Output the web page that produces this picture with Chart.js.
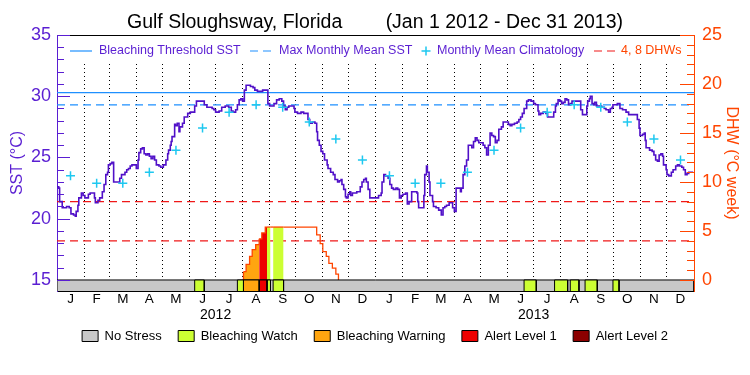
<!DOCTYPE html>
<html>
<head>
<meta charset="utf-8">
<script src="https://cdn.jsdelivr.net/npm/chart.js@4.4.1/dist/chart.umd.min.js"></script>
<style>
  body { margin: 0; background: #fff; }
  canvas { display: block; }
</style>
</head>
<body>
<canvas id="dhwChart" width="750" height="375"></canvas>
<script>
const monthLetters = ["J", "F", "M", "A", "M", "J", "J", "A", "S", "O", "N", "D"];
const monthLengths = [31, 29, 31, 30, 31, 30, 31, 31, 30, 31, 30, 31,
                      31, 28, 31, 30, 31, 30, 31, 31, 30, 31, 30, 31];
const yearLabels = ["2012", "2013"];

// monthly mean climatology (deg C), Jan..Dec
const climatology = [23.5, 22.9, 22.9, 23.8, 25.6, 27.4, 28.7, 29.3, 29.1, 27.9, 26.5, 24.8];
const maxMonthlyMean = 29.3;
const bleachingThreshold = 30.3;
const dhwLevels = [4, 8];

// daily SST, day 0 = Jan 1 2012
const sstDays = [
  0, 2, 3, 6, 9, 11, 14, 16, 19, 21, 22, 24, 25, 28, 30, 32, 34, 36, 38, 41,
  43, 44, 47, 49, 52, 54, 56, 58, 59, 61, 63, 65, 67, 70, 72, 74, 78, 80, 82, 84,
  86, 89, 91, 93, 94, 96, 98, 100, 102, 104, 106, 108, 110, 112, 114, 117, 119, 122, 125, 127,
  128, 130, 131, 132, 135, 136, 138, 140, 141, 144, 146, 148, 150, 153, 156, 158, 160, 164, 167, 169,
  172, 176, 178, 180, 182, 184, 186, 189, 193, 197, 200, 202, 205, 207, 209, 211, 213, 215, 217, 220,
  222, 225, 227, 230, 233, 236, 239, 241, 242, 244, 247, 249, 252, 255, 258, 260, 262, 264, 266, 269,
  272, 273, 276, 280, 283, 285, 288, 290, 293, 296, 298, 299, 301, 303, 305, 307, 310, 311, 314, 317,
  319, 322, 324, 326, 327, 329, 331, 332, 334, 336, 337, 339, 341, 344, 346, 348, 350, 352, 354, 355,
  357, 359, 363, 367, 369, 372, 373, 375, 377, 380, 382, 384, 386, 389, 391, 393, 395, 397, 400, 402,
  404, 407, 410, 413, 414, 415, 419, 421, 422, 424, 425, 427, 428, 431, 432, 435, 437, 438, 441, 443,
  445, 447, 450, 452, 454, 456, 458, 460, 463, 464, 466, 468, 470, 472, 474, 476, 478, 480, 482, 484,
  487, 489, 491, 493, 495, 497, 499, 501, 503, 505, 507, 510, 512, 515, 518, 520, 522, 525, 528, 530,
  532, 534, 536, 539, 541, 544, 547, 549, 552, 553, 555, 558, 561, 563, 568, 570, 572, 573, 575, 577,
  579, 581, 583, 585, 587, 589, 591, 594, 599, 601, 603, 606, 608, 609, 611, 612, 614, 616, 617, 619,
  621, 623, 625, 628, 630, 633, 635, 637, 638, 640, 643, 646, 649, 651, 653, 656, 665, 666, 668, 669,
  672, 674, 675, 676, 680, 683, 685, 687, 689, 691, 693, 695, 696, 699, 700, 702, 705, 707, 710, 712,
  714, 717, 719, 721, 723, 725, 730
];
const sstValues = [
  22.6, 22.5, 21.4, 20.9, 20.9, 21.0, 20.9, 20.4, 20.3, 20.2, 20.6, 21.1, 21.7, 22.1, 21.9, 21.7, 21.7, 22.0, 22.1, 22.1,
  21.7, 21.3, 21.5, 21.7, 22.2, 22.8, 23.6, 23.8, 24.4, 24.5, 24.6, 23.0, 23.0, 23.0, 23.3, 23.6, 23.8, 24.0, 24.1, 24.3,
  24.4, 24.4, 24.1, 24.8, 25.4, 25.7, 25.8, 25.3, 25.2, 25.3, 25.1, 24.9, 25.1, 24.8, 24.4, 24.3, 24.2, 24.4, 24.8, 25.3,
  25.6, 26.0, 26.3, 26.7, 27.7, 27.6, 27.8, 27.1, 27.5, 27.8, 28.3, 28.3, 28.6, 28.7, 28.7, 29.2, 29.6, 29.6, 29.6, 29.3,
  29.1, 29.1, 29.0, 28.9, 28.7, 28.7, 28.8, 29.1, 29.2, 29.1, 28.8, 28.7, 28.9, 29.3, 29.7, 29.8, 29.6, 30.5, 30.9, 30.9,
  30.8, 30.7, 30.5, 30.4, 30.4, 30.5, 30.5, 30.5, 29.4, 29.2, 29.2, 29.4, 29.7, 29.8, 29.6, 29.2, 28.9, 29.1, 29.2, 29.2,
  29.0, 28.7, 28.6, 28.7, 28.6, 28.6, 28.1, 27.8, 27.9, 27.8, 27.1, 26.4, 26.0, 25.5, 25.3, 24.8, 24.4, 24.1, 23.8, 23.6,
  23.2, 23.0, 23.1, 23.2, 22.8, 22.4, 21.8, 21.7, 22.0, 22.2, 21.9, 22.1, 22.1, 22.2, 22.2, 22.6, 23.0, 23.2, 23.3, 23.0,
  22.4, 21.7, 21.7, 21.7, 21.9, 22.1, 23.0, 23.6, 23.5, 23.3, 22.8, 22.5, 22.4, 22.5, 22.4, 21.7, 21.9, 22.0, 22.1, 21.2,
  21.4, 22.2, 22.2, 22.1, 21.4, 20.9, 20.9, 21.9, 23.6, 24.3, 23.8, 23.0, 21.9, 21.4, 21.0, 20.9, 20.9, 20.7, 20.3, 20.9,
  21.0, 21.1, 21.3, 21.3, 20.9, 20.6, 22.5, 22.5, 22.2, 22.5, 23.6, 24.3, 24.8, 26.0, 26.0, 25.8, 26.3, 26.6, 26.4, 26.2,
  26.2, 26.0, 25.8, 25.2, 26.0, 27.0, 26.8, 26.7, 26.2, 26.4, 27.3, 27.5, 27.9, 27.9, 27.7, 27.6, 27.7, 27.8, 27.9, 28.1,
  28.3, 28.6, 29.0, 29.6, 29.7, 29.6, 29.4, 29.3, 28.8, 28.5, 28.6, 28.7, 28.6, 28.3, 28.3, 28.7, 29.2, 29.4, 29.7, 29.6,
  29.4, 29.5, 29.8, 29.7, 29.3, 29.4, 29.6, 29.6, 29.6, 28.9, 28.5, 28.5, 29.2, 29.6, 29.8, 30.0, 29.4, 29.3, 29.5, 29.2,
  29.2, 29.2, 29.1, 29.0, 28.9, 28.7, 29.0, 29.1, 29.3, 29.3, 29.4, 29.0, 28.9, 28.9, 28.7, 28.5, 28.5, 28.1, 27.4, 26.8,
  26.9, 27.0, 26.4, 25.8, 25.6, 25.5, 25.2, 24.8, 24.7, 25.2, 25.3, 25.1, 24.4, 24.0, 23.6, 23.5, 23.8, 24.0, 24.3, 24.4,
  24.3, 24.2, 24.0, 23.6, 23.7, 23.8, 23.8
];

// degree heating weeks
const dhwDays = [213, 214, 217, 221, 224, 228, 232, 235, 239, 241, 245, 248, 260, 298, 302, 305, 309, 312, 316, 320, 323];
const dhwValues = [0, 0.85, 1.6, 2.4, 3.1, 3.6, 4.2, 4.8, 5.4, 5.4, 5.4, 5.4, 5.4, 4.6, 3.7, 2.9, 2.4, 1.7, 1.2, 0.6, 0];

// stress level periods (0 no stress, 1 watch, 2 warning, 3 alert 1, 4 alert 2)
const statusNames = ["No Stress", "Bleaching Watch", "Bleaching Warning", "Alert Level 1", "Alert Level 2"];
const statusColors = ["#C8C8C8", "#CCFF33", "#FFA510", "#EE0000", "#8B0000"];
const statusStart = [158, 207, 214, 232, 241, 248, 536, 571, 589, 606, 638];
const statusEnd = [169, 214, 232, 241, 245, 260, 550, 586, 599, 620, 645];
const statusLevel = [1, 1, 2, 3, 1, 1, 1, 1, 1, 1, 1];

const sstColor = "#5010C8";
const sstAxisColor = "#5A1ED2";
const dhwColor = "#FF4500";
const threshColor = "#1E90FF";
const climColor = "#1EC8F0";
const dashRed = "#F01818";

Chart.defaults.font.family = '"Liberation Sans", Arial, sans-serif';

const monthStarts = [];
let total = 0;
monthLengths.forEach(n => { monthStarts.push(total); total += n; });
const totalDays = total;
const monthMids = monthStarts.map((s, i) => s + monthLengths[i] / 2);
const yearMids = [monthStarts[6], monthStarts[18]];

const sstMin = 14.1, sstMax = 35;
const dhwMin = -1.125, dhwMax = 25;
const stripTop = 15;

function statusAt(day) {
  for (let i = 0; i < statusStart.length; i++) {
    if (day >= statusStart[i] && day < statusEnd[i]) return statusLevel[i];
  }
  return 0;
}

function hLine(value, color, dash, axis, order) {
  return {
    data: [{ x: 0, y: value }, { x: totalDays, y: value }],
    yAxisID: axis,
    borderColor: color,
    borderWidth: 1.2,
    borderDash: dash,
    pointRadius: 0,
    fill: false,
    order: order,
  };
}

function stripBox(s, e, color, order) {
  return {
    data: [{ x: s, y: sstMin }, { x: s, y: stripTop }, { x: e, y: stripTop }, { x: e, y: sstMin }],
    borderColor: "#000",
    borderWidth: 1,
    backgroundColor: color,
    fill: "start",
    pointRadius: 0,
    order: order,
  };
}

const climPoints = [];
for (let yr = 0; yr < 2; yr++) {
  climatology.forEach((v, m) => climPoints.push({ x: monthMids[yr * 12 + m], y: v }));
}

const datasets = [
  hLine(bleachingThreshold, threshColor, [], "y", 6),
  hLine(maxMonthlyMean, threshColor, [8, 5], "y", 6),
  ...dhwLevels.map(v => hLine(v, dashRed, [8, 5], "y2", 6)),
  {
    data: dhwDays.map((d, i) => ({ x: d, y: dhwValues[i] })),
    yAxisID: "y2",
    stepped: true,
    borderColor: dhwColor,
    borderWidth: 1.3,
    backgroundColor: "rgba(0,0,0,0)",
    fill: "origin",
    pointRadius: 0,
    order: 4,
    segment: {
      backgroundColor: c => {
        const lvl = statusAt(c.p0.parsed.x);
        return lvl > 0 ? statusColors[lvl] : "rgba(0,0,0,0)";
      },
    },
  },
  stripBox(0, totalDays, statusColors[0], 3),
  ...statusStart.map((s, i) => stripBox(s, statusEnd[i], statusColors[statusLevel[i]], 2)),
  {
    data: sstDays.map((d, i) => ({ x: d, y: sstValues[i] })),
    stepped: true,
    borderColor: sstColor,
    borderWidth: 1.6,
    pointRadius: 0,
    fill: false,
    order: 1,
  },
  {
    data: climPoints,
    showLine: false,
    pointStyle: "cross",
    pointRadius: 4.5,
    pointBorderWidth: 1.5,
    borderColor: climColor,
    order: 0,
  },
];

// legend drawn inside the top of the plot
const innerLegend = {
  id: "innerLegend",
  beforeDatasetsDraw(chart) {
    const { ctx, chartArea } = chart;
    const L = chartArea.left;
    const y = chartArea.top + 16;
    ctx.save();
    ctx.fillStyle = "#fff";
    ctx.fillRect(L + 1, chartArea.top + 1, chartArea.right - L - 2, 27);
    ctx.font = '12.5px "Liberation Sans", Arial, sans-serif';
    ctx.textBaseline = "middle";
    ctx.lineWidth = 1.2;

    ctx.strokeStyle = threshColor;
    ctx.beginPath(); ctx.moveTo(L + 13, y); ctx.lineTo(L + 35, y); ctx.stroke();
    ctx.setLineDash([8, 5]);
    ctx.beginPath(); ctx.moveTo(L + 193, y); ctx.lineTo(L + 216, y); ctx.stroke();
    ctx.strokeStyle = dashRed;
    ctx.beginPath(); ctx.moveTo(L + 537, y); ctx.lineTo(L + 560, y); ctx.stroke();
    ctx.setLineDash([]);
    ctx.strokeStyle = climColor;
    ctx.lineWidth = 1.5;
    ctx.beginPath();
    ctx.moveTo(L + 364.5, y); ctx.lineTo(L + 373.5, y);
    ctx.moveTo(L + 369, y - 4.5); ctx.lineTo(L + 369, y + 4.5);
    ctx.stroke();

    ctx.fillStyle = sstAxisColor;
    ctx.fillText("Bleaching Threshold SST", L + 42, y);
    ctx.fillText("Max Monthly Mean SST", L + 222, y);
    ctx.fillText("Monthly Mean Climatology", L + 380, y);
    ctx.fillStyle = dhwColor;
    ctx.fillText("4, 8 DHWs", L + 564, y);
    ctx.restore();
  },
};

// inward tick marks on both value axes
const innerTicks = {
  id: "innerTicks",
  afterDatasetsDraw(chart) {
    const { ctx, chartArea, scales } = chart;
    ctx.save();
    ctx.lineWidth = 1;
    ctx.strokeStyle = sstAxisColor;
    scales.y.ticks.forEach(t => {
      const py = Math.round(scales.y.getPixelForValue(t.value)) + 0.5;
      const len = t.value % 5 === 0 ? 13 : 7;
      ctx.beginPath(); ctx.moveTo(chartArea.left, py); ctx.lineTo(chartArea.left + len, py); ctx.stroke();
    });
    ctx.strokeStyle = dhwColor;
    scales.y2.ticks.forEach(t => {
      const py = Math.round(scales.y2.getPixelForValue(t.value)) + 0.5;
      const len = t.value % 5 === 0 ? 14 : 7;
      ctx.beginPath(); ctx.moveTo(chartArea.right, py); ctx.lineTo(chartArea.right - len, py); ctx.stroke();
    });
    ctx.restore();
  },
};

const ctx = document.getElementById("dhwChart").getContext("2d");
const dhwChart = new Chart(ctx, {
  type: "line",
  data: { datasets: datasets },
  options: {
    responsive: false,
    animation: false,
    layout: { padding: { left: 0, right: 0, top: 0, bottom: 22.5 } },
    plugins: {
      title: {
        display: true,
        text: "Gulf Sloughsway, Florida        (Jan 1 2012 - Dec 31 2013)",
        color: "#000",
        font: { size: 19.5, weight: "normal" },
        padding: { top: 11, bottom: 0.6 },
      },
      legend: {
        position: "bottom",
        onClick: null,
        labels: {
          boxWidth: 16,
          boxHeight: 11,
          padding: 16.5,
          color: "#000",
          font: { size: 13 },
          generateLabels: () => statusNames.map((t, i) => ({
            text: t,
            fillStyle: statusColors[i],
            strokeStyle: "#000",
            lineWidth: 1,
            hidden: false,
            index: i,
          })),
        },
      },
      tooltip: { enabled: false },
    },
    scales: {
      xg: {
        type: "linear",
        position: "top",
        min: 0,
        max: totalDays,
        afterBuildTicks: s => { s.ticks = monthStarts.slice(1).map(v => ({ value: v })); },
        ticks: { display: false },
        grid: { display: true, drawTicks: false, color: "#000", lineWidth: 1 },
        border: { display: true, color: "#000", width: 1, dash: [1, 3] },
        afterFit: s => { s.height = 0; },
      },
      x: {
        type: "linear",
        position: "bottom",
        min: 0,
        max: totalDays,
        afterBuildTicks: s => { s.ticks = monthMids.map(v => ({ value: v })); },
        ticks: {
          autoSkip: false,
          maxRotation: 0,
          padding: 0,
          color: "#000",
          font: { size: 13.5 },
          callback: (v, i) => monthLetters[i % 12],
        },
        grid: { display: false, drawTicks: false },
        border: { display: true, color: "#000", width: 1 },
        afterFit: s => { s.height = 22; },
      },
      xy: {
        type: "linear",
        position: { y: sstMin },
        min: 0,
        max: totalDays,
        afterBuildTicks: s => { s.ticks = yearMids.map(v => ({ value: v })); },
        ticks: {
          autoSkip: false,
          maxRotation: 0,
          padding: 16,
          color: "#000",
          font: { size: 14 },
          callback: (v, i) => yearLabels[i],
        },
        grid: { display: false, drawTicks: false },
        border: { display: false },
      },
      y: {
        position: "left",
        min: sstMin,
        max: sstMax,
        afterBuildTicks: s => {
          s.ticks = [];
          for (let v = 15; v <= sstMax; v++) s.ticks.push({ value: v });
        },
        ticks: {
          autoSkip: false,
          padding: 6,
          color: sstAxisColor,
          font: { size: 18 },
          callback: v => (v % 5 === 0 ? v : ""),
        },
        grid: { display: false, drawTicks: false },
        border: { display: true, color: sstAxisColor, width: 1 },
        title: {
          display: true,
          text: "SST (°C)",
          color: sstAxisColor,
          font: { size: 16 },
          padding: { top: 8, bottom: 0 },
        },
        afterFit: s => { s.width = 57; },
      },
      y2: {
        position: "right",
        min: dhwMin,
        max: dhwMax,
        afterBuildTicks: s => {
          s.ticks = [];
          for (let v = 0; v <= dhwMax; v++) s.ticks.push({ value: v });
        },
        ticks: {
          autoSkip: false,
          padding: 8,
          color: dhwColor,
          font: { size: 18 },
          callback: v => (v % 5 === 0 ? v : ""),
        },
        grid: { display: false, drawTicks: false },
        border: { display: true, color: dhwColor, width: 1 },
        title: {
          display: true,
          text: "DHW (°C week)",
          color: dhwColor,
          font: { size: 16 },
          padding: { top: 9, bottom: 0 },
        },
        afterFit: s => { s.width = 56; },
      },
    },
  },
  plugins: [innerLegend, innerTicks],
});
</script>
</body>
</html>
